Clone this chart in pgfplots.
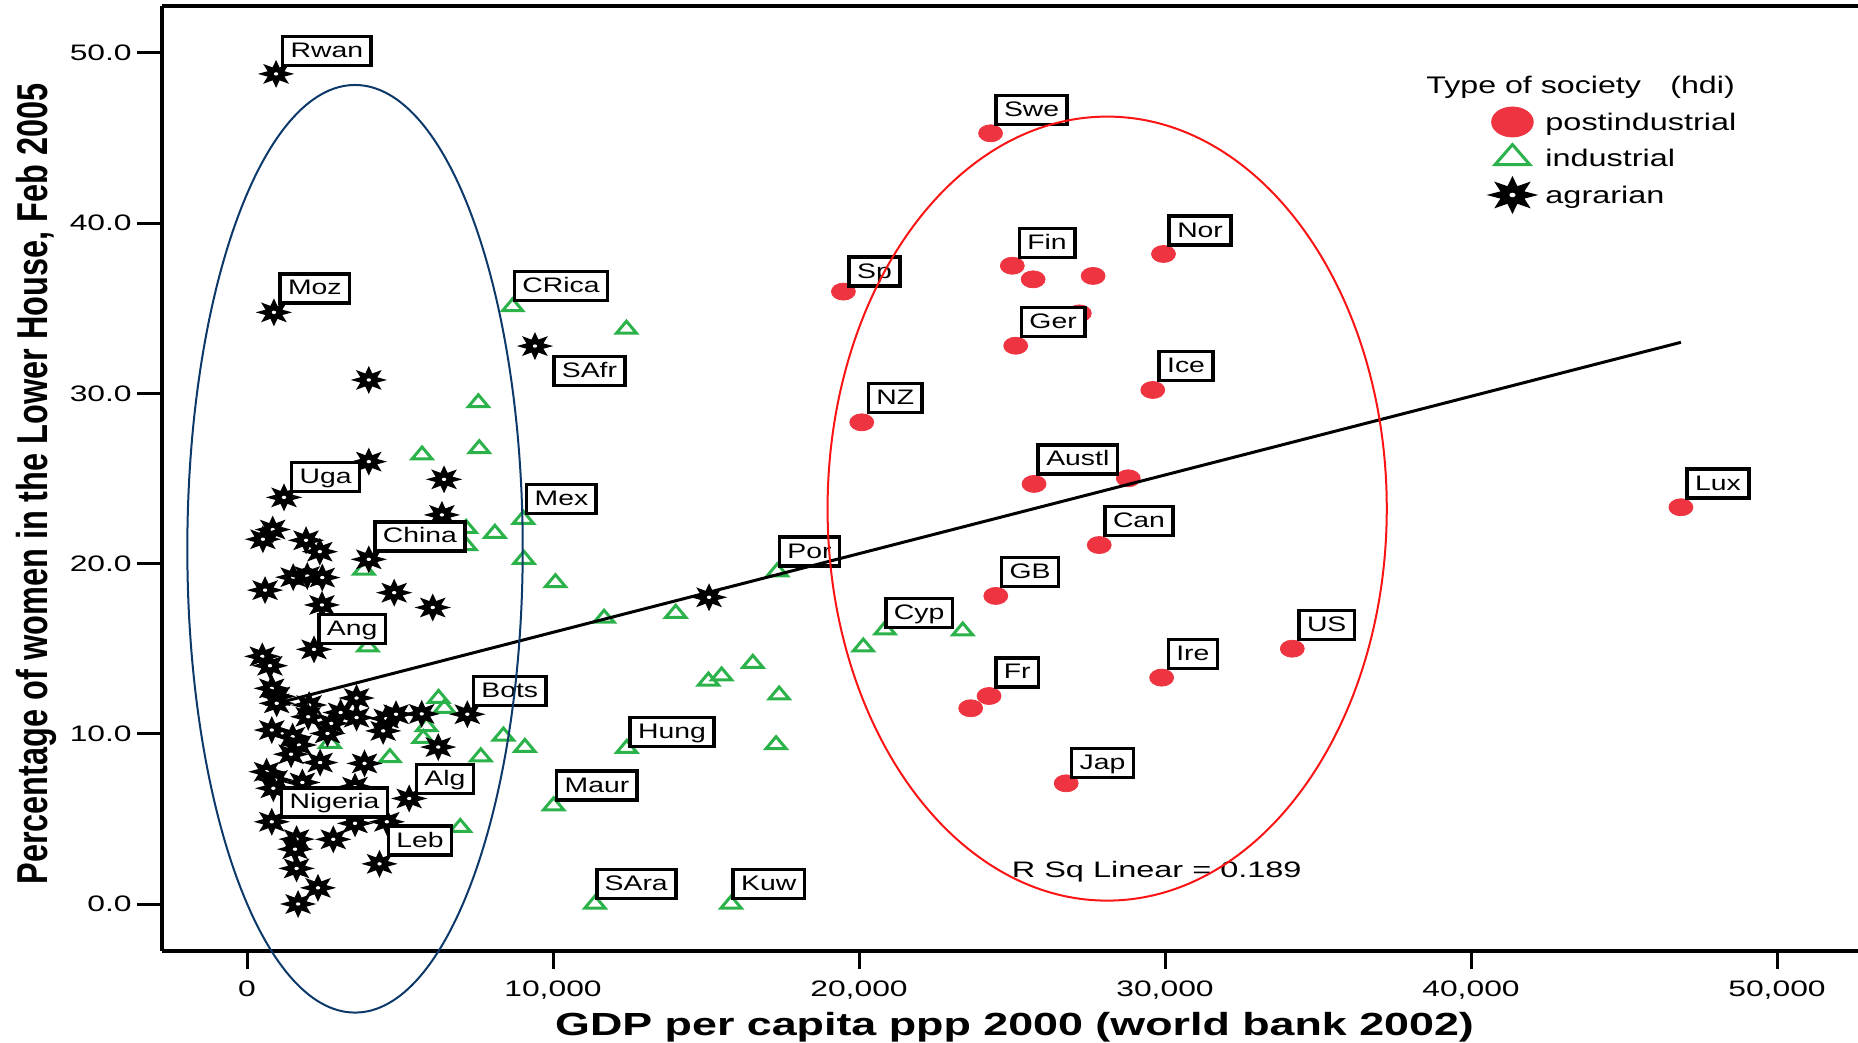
\documentclass[border=0pt]{standalone}
\usepackage{pgfplots}
\pgfplotsset{compat=1.18}
\usepackage{fontspec}
\setmainfont{Liberation Sans}
\definecolor{dotred}{RGB}{238,52,64}
\definecolor{trigreen}{RGB}{44,178,74}
\definecolor{navyell}{RGB}{12,56,106}
\definecolor{redell}{RGB}{250,20,20}
\newcommand{\hs}[2][1.4]{\scalebox{#1}[1]{#2}}
\pgfdeclareplotmark{star8}{%
  \pgfpathmoveto{\pgfpointpolar{90}{\pgfplotmarksize}}%
  \pgfpathlineto{\pgfpointpolar{112.5}{0.5\pgfplotmarksize}}%
  \pgfpathlineto{\pgfpointpolar{135}{\pgfplotmarksize}}%
  \pgfpathlineto{\pgfpointpolar{157.5}{0.5\pgfplotmarksize}}%
  \pgfpathlineto{\pgfpointpolar{180}{\pgfplotmarksize}}%
  \pgfpathlineto{\pgfpointpolar{202.5}{0.5\pgfplotmarksize}}%
  \pgfpathlineto{\pgfpointpolar{225}{\pgfplotmarksize}}%
  \pgfpathlineto{\pgfpointpolar{247.5}{0.5\pgfplotmarksize}}%
  \pgfpathlineto{\pgfpointpolar{270}{\pgfplotmarksize}}%
  \pgfpathlineto{\pgfpointpolar{292.5}{0.5\pgfplotmarksize}}%
  \pgfpathlineto{\pgfpointpolar{315}{\pgfplotmarksize}}%
  \pgfpathlineto{\pgfpointpolar{337.5}{0.5\pgfplotmarksize}}%
  \pgfpathlineto{\pgfpointpolar{0}{\pgfplotmarksize}}%
  \pgfpathlineto{\pgfpointpolar{22.5}{0.5\pgfplotmarksize}}%
  \pgfpathlineto{\pgfpointpolar{45}{\pgfplotmarksize}}%
  \pgfpathlineto{\pgfpointpolar{67.5}{0.5\pgfplotmarksize}}%
  \pgfpathclose
  \pgfusepathqfill
  \pgfscope
  \pgfsetfillcolor{white}%
  \pgfpathcircle{\pgfpointorigin}{0.12\pgfplotmarksize}%
  \pgfusepathqfill
  \endpgfscope
}
\tikzset{lbl/.style={draw=black, line width=1.8pt, fill=white, inner xsep=4pt, inner ysep=3pt,
  text height=7.5pt, text depth=1pt, font=\fontsize{10.5}{12}\selectfont, anchor=south west}}
\begin{document}
\begin{tikzpicture}
\begin{axis}[
  set layers,
  at={(0pt,0pt)}, anchor=south west,
  width=848pt, height=472.5pt, scale only axis,
  xmin=-2778, xmax=52647, ymin=-2.761, ymax=52.76,
  clip=false,
  axis x line*=bottom, axis y line*=left,
  axis line style={line width=1.8pt, -},
  xtick={0,10000,20000,30000,40000,50000},
  ytick={0,10,20,30,40,50},
  xtick pos=bottom, ytick pos=left,
  tick align=outside,
  major tick style={line width=1.5pt, black},
  xtick style={/pgfplots/major tick length=9pt},
  ytick style={/pgfplots/major tick length=12.5pt},
  minor tick num=0,
  scaled x ticks=false, scaled y ticks=false,
  /pgf/number format/assume math mode=true,
  tick label style={font=\fontsize{11.2}{13}\selectfont, inner sep=0pt},
  xticklabel={\hs[1.42]{\pgfmathprintnumber[1000 sep={,}]{\tick}}},
  yticklabel={\hs[1.42]{\pgfmathprintnumber[fixed,fixed zerofill,precision=1]{\tick}}},
  xticklabel style={anchor=north, text height=8pt, text depth=0pt},
  yticklabel style={anchor=east},
  xticklabel shift=10.5pt,
  yticklabel shift=10.7pt,
  xlabel={\hs[1.40]{GDP per capita ppp 2000 (world bank 2002)}},
  ylabel={\scalebox{1.015}[1.35]{Percentage of women in the Lower House, Feb 2005}},
  xlabel style={font=\fontsize{16}{19}\selectfont\bfseries, at={(axis description cs:0.5027,-0.0889)}, anchor=base, inner sep=0pt},
  ylabel style={font=\fontsize{16}{19}\selectfont\bfseries, at={(axis description cs:-0.0676,0.4942)}, anchor=base, inner sep=0pt},
  legend style={at={(0.781,0.8963)}, anchor=north west, draw=none, fill=none, inner sep=0pt, outer sep=0pt,
    row sep=0pt, column sep=3.6pt,
    nodes={inner sep=0pt, text height=13.5pt, text depth=4.5pt, font=\fontsize{12}{14}\selectfont}},
  legend cell align=left,
  legend image code/.code={\draw[#1] plot coordinates {(0pt,0pt)};},
]
% industrial
\addplot[only marks, mark=triangle, mark size=4pt, color=trigreen, line width=1.5pt,
  mark options={xscale=1.45}, forget plot] coordinates {
(8680,35.09) (12400,33.77) (7560,29.45) (7590,26.75) (5720,26.38) (9030,22.60) (8100,21.78)
(7160,22.07) (7160,21.05) (9050,20.25) (10080,18.88) (11670,16.79) (14010,17.08) (17330,19.52)
(20850,16.10) (23390,16.04) (20140,15.10) (3820,19.62) (3950,15.10) (2710,9.44) (4670,8.60)
(6260,12.08) (6450,11.50) (5870,10.42) (5760,9.73) (8380,9.87) (9080,9.20) (7640,8.65)
(12410,9.14) (16530,14.14) (15510,13.40) (15080,13.10) (17390,12.28) (17290,9.36)
(10020,5.77) (6970,4.50) (11370,0.0) (15820,0.0)};
% postindustrial
\addplot[only marks, mark=*, mark size=4.25pt, color=dotred, mark options={xscale=1.41}, forget plot] coordinates {
(24300,45.28) (19490,35.98) (25010,37.50) (25690,36.70) (27650,36.90) (29950,38.19) (27200,34.70)
(25120,32.80) (29600,30.20) (20090,28.30) (25720,24.68) (28800,25.01) (27850,21.09) (24470,18.10)
(24250,12.22) (23650,11.50) (29890,13.30) (34160,15.00) (26770,7.09) (46860,23.31)};
% agrarian
\addplot[only marks, mark=star8, mark size=7pt, color=black, mark options={xscale=1.3}, forget plot] coordinates {
(950,48.77) (880,34.76) (3980,30.79) (9410,32.78) (3980,25.99) (1210,23.89) (6440,24.95)
(6370,22.86) (840,22.00) (520,21.43) (1930,21.37) (2380,20.70) (3980,20.25) (1510,19.20)
(1970,19.27) (2460,19.18) (590,18.44) (4810,18.29) (6070,17.42) (2450,17.57) (15100,18.02)
(2190,14.96) (500,14.55) (750,14.00) (810,12.67) (1000,12.20) (970,11.79) (2030,11.69)
(2000,11.00) (3580,12.10) (3060,11.25) (3580,10.95) (2750,10.61) (2630,10.02) (4550,10.90)
(4870,11.15) (4450,10.17) (5710,11.17) (7200,11.15) (6250,9.22) (810,10.22) (1490,9.83)
(1700,9.34) (1440,8.80) (2390,8.31) (3840,8.26) (640,7.77) (920,7.29) (860,6.80) (1810,7.14)
(3530,6.89) (5300,6.20) (810,4.83) (3530,4.74) (4570,4.83) (1620,3.81) (1570,3.22) (2820,3.80)
(4330,2.36) (1620,2.09) (2320,0.95) (1670,0.0)};
% labels
\begin{pgfonlayer}{axis descriptions}
\node[lbl] at (axis cs:1105,49.15) {\hs[1.35]{Rwan}};
\node[lbl] at (axis cs:1020,35.22) {\hs[1.35]{Moz}};
\node[lbl] at (axis cs:8680,35.34) {\hs[1.35]{CRica}};
\node[lbl, anchor=north west] at (axis cs:9970,32.27) {\hs[1.35]{SAfr}};
\node[lbl] at (axis cs:1400,24.12) {\hs[1.35]{Uga}};
\node[lbl] at (axis cs:4120,20.65) {\hs[1.35]{China}};
\node[lbl] at (axis cs:9080,22.84) {\hs[1.35]{Mex}};
\node[lbl] at (axis cs:2290,15.21) {\hs[1.35]{Ang}};
\node[lbl] at (axis cs:7340,11.55) {\hs[1.35]{Bots}};
\node[lbl] at (axis cs:5480,6.39) {\hs[1.35]{Alg}};
\node[lbl] at (axis cs:1070,5.02) {\hs[1.35]{Nigeria}};
\node[lbl] at (axis cs:4560,2.77) {\hs[1.35]{Leb}};
\node[lbl] at (axis cs:12460,9.14) {\hs[1.35]{Hung}};
\node[lbl] at (axis cs:10060,6.00) {\hs[1.35]{Maur}};
\node[lbl] at (axis cs:11370,0.22) {\hs[1.35]{SAra}};
\node[lbl] at (axis cs:15830,0.22) {\hs[1.35]{Kuw}};
\node[lbl] at (axis cs:17340,19.75) {\hs[1.35]{Por}};
\node[lbl] at (axis cs:20820,16.13) {\hs[1.35]{Cyp}};
\node[lbl] at (axis cs:19620,36.20) {\hs[1.35]{Sp}};
\node[lbl] at (axis cs:24420,45.70) {\hs[1.35]{Swe}};
\node[lbl] at (axis cs:25180,37.88) {\hs[1.35]{Fin}};
\node[lbl] at (axis cs:30080,38.61) {\hs[1.35]{Nor}};
\node[lbl] at (axis cs:25250,33.23) {\hs[1.35]{Ger}};
\node[lbl] at (axis cs:29750,30.64) {\hs[1.35]{Ice}};
\node[lbl] at (axis cs:20250,28.76) {\hs[1.35]{NZ}};
\node[lbl] at (axis cs:25800,25.16) {\hs[1.35]{Austl}};
\node[lbl] at (axis cs:27980,21.55) {\hs[1.35]{Can}};
\node[lbl] at (axis cs:24600,18.54) {\hs[1.35]{GB}};
\node[lbl] at (axis cs:24410,12.66) {\hs[1.35]{Fr}};
\node[lbl] at (axis cs:30050,13.74) {\hs[1.35]{Ire}};
\node[lbl] at (axis cs:34320,15.44) {\hs[1.35]{US}};
\node[lbl] at (axis cs:26890,7.33) {\hs[1.35]{Jap}};
\node[lbl] at (axis cs:47000,23.73) {\hs[1.35]{Lux}};
\end{pgfonlayer}
% fit line
\addplot[on layer=axis foreground, black, line width=1.5pt, forget plot] coordinates {(1300,11.94) (46860,33.0)};
\begin{pgfonlayer}{axis foreground}
\node[anchor=base west, inner sep=0pt, font=\fontsize{11.2}{13}\selectfont] at (axis cs:24980,1.55) {\hs[1.45]{R Sq Linear = 0.189}};
\draw[navyell, line width=1pt] (axis cs:3530,20.87) ellipse [x radius=83.85pt, y radius=231.9pt];
\draw[redell, line width=1pt] (axis cs:28110,23.23) ellipse [x radius=139.8pt, y radius=196pt];
\draw[line width=1.8pt] (rel axis cs:0,1) -- (rel axis cs:1,1);
\node[anchor=base west, inner sep=0pt, font=\fontsize{12}{14}\selectfont] at (axis cs:38530,47.63) {\hs[1.34]{Type of society\hspace{11pt}(hdi)}};
\end{pgfonlayer}
% legend
\addlegendimage{only marks, mark=*, mark size=7.5pt, color=dotred, mark options={xscale=1.39}}
\addlegendentry{\hs[1.35]{postindustrial}}
\addlegendimage{only marks, mark=triangle, mark size=6.7pt, color=trigreen, line width=1.5pt, mark options={xscale=1.5}}
\addlegendentry{\hs[1.35]{industrial}}
\addlegendimage{only marks, mark=star8, mark size=9.5pt, color=black, mark options={xscale=1.36}}
\addlegendentry{\hs[1.35]{agrarian}}
\end{axis}
\pgfresetboundingbox
\path[use as bounding box] (-81pt,-46pt) rectangle (848pt,475.5pt);
\end{tikzpicture}
\end{document}
